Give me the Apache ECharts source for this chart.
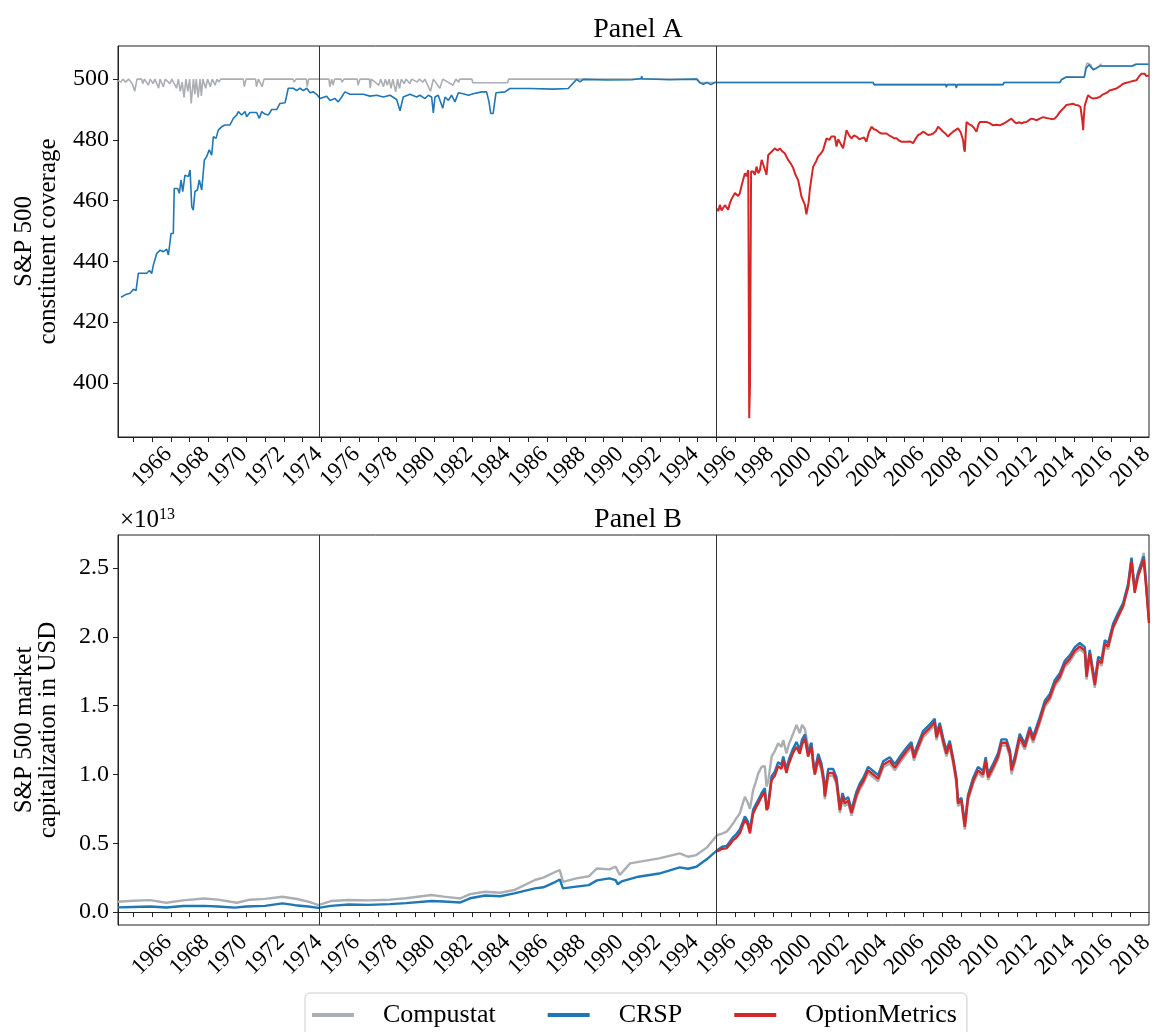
<!DOCTYPE html>
<html>
<head>
<meta charset="utf-8">
<title>S&amp;P 500 coverage and market capitalization</title>
<script src="https://cdn.jsdelivr.net/npm/echarts@6/dist/echarts.min.js"></script>
<style>
  html, body { margin: 0; padding: 0; background: #fff; }
  #chart { width: 1154px; height: 1032px; }
</style>
</head>
<body>
<div id="chart"></div>
<script>
// ---- Panel A: number of S&P 500 constituents covered by each database ----
const coverageCompustat = [
  [1964.19,499.5],[1964.35,499],[1964.45,500],[1964.6,499],[1964.75,500],[1964.95,498.5],[1965.08,496],[1965.15,496],
  [1965.2,500],[1965.45,500],[1965.5,498.5],[1965.6,500],[1965.8,498],[1965.9,500],[1966.05,498.5],[1966.15,500],
  [1966.35,497],[1966.42,500],[1966.6,497.5],[1966.7,500],[1966.95,498.5],[1967.05,500],[1967.3,497],[1967.4,500],
  [1967.5,496],[1967.6,499],[1967.7,494],[1967.8,500],[1967.9,496],[1968.0,500],[1968.08,492],[1968.15,492],
  [1968.2,500],[1968.28,495],[1968.35,500],[1968.45,494],[1968.55,500],[1968.62,494.5],[1968.7,500],[1968.85,497],
  [1968.95,500],[1969.1,497.5],[1969.2,500],[1969.35,498],[1969.45,500],[1969.55,499],[1969.65,500],[1970.85,500],
  [1970.9,497.5],[1971.0,500],[1971.5,500],[1971.55,497.5],[1971.65,500],[1971.85,497.5],[1971.95,500],[1973.5,500],
  [1973.55,499],[1973.65,500],[1974.2,500],[1974.25,497.5],[1974.32,500],[1975.4,500],[1975.45,497.5],[1975.55,500],
  [1975.62,498],[1975.7,500],[1976.05,500],[1976.1,499],[1976.2,500],[1976.9,500],[1976.95,498],[1977.05,500],
  [1977.55,500],[1977.6,497],[1977.65,500],[1978.05,498],[1978.15,500],[1978.3,497.5],[1978.4,500],[1978.5,498],
  [1978.6,500],[1978.7,497],[1978.8,500],[1978.95,495.8],[1979.05,500],[1979.15,497],[1979.25,500],[1979.4,498.5],
  [1979.5,500],[1979.7,498.5],[1979.8,500],[1980.1,499],[1980.2,500],[1980.4,499],[1980.5,500],[1980.8,496],
  [1980.9,496],[1980.95,500],[1981.3,497],[1981.4,497],[1981.45,500],[1982.0,498],[1982.1,498],[1982.15,500],
  [1982.3,499],[1982.35,500],[1983.0,500],[1983.05,498.8],[1984.9,498.8],[1984.95,500],[1988.57,500],[1995.0,500],
  [1995.12,498.9],[2004.33,498.9],[2004.38,498.2],[2011.24,498.2],[2011.28,498.9],[2014.25,498.9],[2014.35,499.9],
  [2014.6,500.7],[2015.55,500.7],[2015.62,503.8],[2015.7,505.3],[2015.8,505.3],[2015.9,504.7],[2016.0,503.3],
  [2016.15,503.6],[2016.37,504.3],[2016.42,505],[2016.48,504.3],[2018.1,504.3],[2018.3,504.9],[2018.99,504.9]
];

const coverageCRSP = [
  [1964.35,428.2],[1964.57,429],[1964.83,429.5],[1965.01,430.8],[1965.15,430.4],[1965.27,436.1],[1965.72,436.1],
  [1965.86,437],[1965.98,436],[1966.07,438.8],[1966.25,442.6],[1966.43,443.7],[1966.6,443.2],[1966.78,444],
  [1966.87,442.1],[1967.01,449.2],[1967.13,449.2],[1967.18,464],[1967.36,464],[1967.45,462.4],[1967.54,466.8],
  [1967.63,463],[1967.75,468.4],[1967.93,467.9],[1968.02,470.1],[1968.11,458],[1968.19,456.9],[1968.28,463],
  [1968.41,463.5],[1968.51,466.8],[1968.64,463.5],[1968.78,473.4],[1968.9,474.5],[1969.04,476.7],[1969.17,475],
  [1969.26,481.1],[1969.4,480.5],[1969.52,483.2],[1969.7,484.3],[1969.88,484.9],[1970.14,484.9],[1970.32,487.1],
  [1970.5,488.2],[1970.59,489.3],[1970.76,488.2],[1970.94,489.3],[1971.03,487.6],[1971.2,489],[1971.56,489],
  [1971.7,487.1],[1971.83,489.3],[1972.0,488.5],[1972.18,488.2],[1972.36,490],[1972.63,490],[1972.8,492],
  [1973.07,492.2],[1973.24,497],[1973.51,497],[1973.69,496.2],[1973.86,497],[1974.04,496.2],[1974.22,497],
  [1974.4,495.5],[1974.57,495.8],[1974.75,495],[1974.93,493.6],[1975.28,494.4],[1975.46,493],[1975.72,493.6],
  [1975.9,492.5],[1976.08,494.1],[1976.25,495.8],[1976.52,495],[1977.23,495],[1977.58,494.4],[1977.94,494.7],
  [1978.29,494.1],[1978.65,494.7],[1979.0,493.3],[1979.18,489.6],[1979.35,494.1],[1979.71,495],[1980.06,494.1],
  [1980.24,494.7],[1980.51,493.6],[1980.68,494.7],[1980.86,494.1],[1980.95,488.9],[1981.04,494.1],[1981.21,494.7],
  [1981.45,490.4],[1981.57,494.1],[1981.75,493],[1981.92,494.7],[1982.1,492.5],[1982.28,495.5],[1982.54,495.2],
  [1982.81,494.7],[1983.07,495.2],[1983.52,495.8],[1983.78,495.8],[1983.91,492.5],[1984.0,488.7],[1984.13,488.7],
  [1984.28,495.5],[1984.76,495.8],[1985.02,496.9],[1986.09,496.9],[1987.32,496.7],[1987.36,496.2],[1988.12,496.9],
  [1988.57,499.9],[1988.75,499.1],[1988.92,499.9],[1990.16,499.7],[1990.2,499.1],[1990.25,499.9],[1991.5,499.8],
  [1992.0,500.2],[1992.02,501],[1992.06,500.1],[1993.5,499.8],[1994.94,500],[1995.12,498.8],[1995.3,498.3],
  [1995.5,498.9],[1995.7,498.2],[1995.9,498.9],[1996.0,498.3],[1996.2,498.9],[1996.6,498.9],[1996.65,498.3],
  [1996.7,498.9],[1997.5,498.9],[1997.55,498.3],[1997.6,498.9],[1998.3,498.9],[1998.35,498.3],[1998.4,498.9],
  [2004.33,498.9],[2004.38,498.2],[2006.4,498.2],[2006.45,497.6],[2006.5,498.2],[2008.18,498.2],[2008.22,497.3],
  [2008.27,498.2],[2008.7,498.2],[2008.75,497.1],[2008.8,498.2],[2011.24,498.2],[2011.28,498.9],[2014.25,498.9],
  [2014.35,499.9],[2014.6,500.7],[2015.55,500.6],[2015.65,503.6],[2015.8,504.7],[2016.02,503.1],[2016.2,503.6],
  [2016.37,504.3],[2018.1,504.3],[2018.3,504.9],[2018.99,504.9]
];

const coverageOptionMetrics = [
  [1996.04,457.5],[1996.1,456.5],[1996.18,458.6],[1996.27,456.8],[1996.36,456.4],[1996.45,458.5],[1996.54,458.1],
  [1996.62,457],[1996.71,459.1],[1996.8,460.5],[1996.89,460.2],[1996.98,462.5],[1997.07,463],[1997.15,461.5],
  [1997.24,462.4],[1997.33,464.8],[1997.42,464.6],[1997.51,469],[1997.6,468],[1997.69,470.1],[1997.74,388.4],
  [1997.78,398.8],[1997.84,469.6],[1997.95,469.6],[1998.04,468.5],[1998.13,471.2],[1998.22,469],[1998.31,470.1],
  [1998.4,473.4],[1998.49,471.8],[1998.57,472.3],[1998.66,468.5],[1998.75,475],[1998.93,476.1],[1999.1,477.2],
  [1999.25,476.5],[1999.37,477.2],[1999.5,476.2],[1999.63,475.6],[1999.81,473.4],[1999.95,472.2],[2000.08,470.7],
  [2000.2,468.5],[2000.34,466.8],[2000.45,463.5],[2000.52,461.3],[2000.7,458.6],[2000.78,455.5],[2000.82,455.9],
  [2000.9,459.5],[2000.96,463.5],[2001.05,467.5],[2001.14,471.2],[2001.3,473],[2001.4,474.5],[2001.55,475.5],
  [2001.67,476.7],[2001.85,480.5],[2002.0,480],[2002.11,481.1],[2002.29,481.1],[2002.38,477.8],[2002.47,480.2],
  [2002.56,480.5],[2002.73,477.2],[2002.82,480],[2002.91,483.2],[2003.05,481.5],[2003.18,480.5],[2003.31,481.5],
  [2003.44,481.1],[2003.6,480.2],[2003.71,480.5],[2003.85,480.8],[2003.97,479.4],[2004.1,482.5],[2004.24,484.3],
  [2004.37,483.5],[2004.51,483.2],[2004.64,482.5],[2004.77,482.1],[2005.04,482.1],[2005.17,481.5],[2005.3,481.1],
  [2005.45,480.5],[2005.57,480.5],[2005.7,479.8],[2005.83,479.4],[2006.1,479.4],[2006.28,479.5],[2006.45,478.9],
  [2006.6,480.5],[2006.72,481.6],[2006.85,482],[2006.98,482.7],[2007.12,482.2],[2007.25,481.6],[2007.4,481.8],
  [2007.52,482.1],[2007.65,482.8],[2007.78,484.3],[2007.92,483.5],[2008.05,482.7],[2008.18,482],[2008.31,481.1],
  [2008.45,482],[2008.58,482.7],[2008.7,483.2],[2008.84,483.8],[2008.98,482.5],[2009.11,479.9],[2009.16,477],
  [2009.2,476.1],[2009.25,482],[2009.29,485.9],[2009.42,485.2],[2009.55,484.8],[2009.68,484],[2009.82,482.7],
  [2009.92,485],[2010.0,485.9],[2010.2,485.9],[2010.35,485.9],[2010.52,485.5],[2010.7,484.8],[2010.88,485],
  [2011.06,484.8],[2011.24,485.3],[2011.41,485.9],[2011.55,486.5],[2011.68,487],[2011.82,486],[2011.95,485.4],
  [2012.08,485.8],[2012.21,485.4],[2012.35,485.8],[2012.48,485.9],[2012.61,486.5],[2012.74,487],[2012.88,486.8],
  [2013.01,486.4],[2013.18,487],[2013.36,487.5],[2013.54,487.2],[2013.72,487],[2013.85,486.8],[2013.98,487],
  [2014.12,488],[2014.25,489.2],[2014.38,490],[2014.51,490.8],[2014.6,491.5],[2014.69,491.9],[2014.82,491.7],
  [2014.95,491.9],[2015.08,491.5],[2015.22,491.4],[2015.35,490.8],[2015.4,490.3],[2015.45,486],[2015.49,483.2],
  [2015.53,488],[2015.58,491.4],[2015.66,493],[2015.75,494.7],[2015.88,494],[2016.02,493.6],[2016.2,493.8],
  [2016.37,494.1],[2016.5,494.8],[2016.64,495.2],[2016.77,495.6],[2016.9,496.3],[2017.08,496.6],[2017.26,496.9],
  [2017.43,497.6],[2017.61,498.5],[2017.79,498.8],[2017.97,499.1],[2018.14,499.4],[2018.32,499.6],[2018.45,500.8],
  [2018.59,501.8],[2018.76,501.8],[2018.85,501],[2018.94,500.7],[2018.99,501.2]
];

// ---- Panel B: S&P 500 market capitalization, in units of 1e13 USD ----
const capCompustat = [
  [1964.19,0.075],[1965.0,0.082],[1965.89,0.087],[1966.76,0.068],[1967.65,0.085],[1968.75,0.099],[1969.5,0.09],
  [1970.51,0.068],[1971.2,0.09],[1972.0,0.096],[1972.93,0.111],[1973.7,0.095],[1974.4,0.072],[1974.84,0.051],
  [1975.5,0.08],[1976.45,0.088],[1977.5,0.085],[1978.65,0.09],[1979.5,0.1],[1980.85,0.124],[1981.5,0.112],
  [1982.39,0.099],[1982.9,0.13],[1983.71,0.148],[1984.5,0.14],[1985.25,0.16],[1986.35,0.233],[1986.8,0.25],
  [1987.45,0.293],[1987.67,0.305],[1987.84,0.22],[1988.55,0.245],[1989.21,0.26],[1989.65,0.317],[1990.31,0.31],
  [1990.64,0.33],[1990.86,0.269],[1991.41,0.354],[1992.95,0.39],[1994.05,0.426],[1994.49,0.402],[1994.93,0.414],
  [1995.5,0.47],[1996.04,0.56],[1996.3,0.57],[1996.54,0.584],[1996.7,0.61],[1996.89,0.645],[1997.05,0.68],
  [1997.24,0.717],[1997.4,0.79],[1997.51,0.838],[1997.65,0.8],[1997.78,0.75],[1997.95,0.887],[1998.1,0.95],
  [1998.22,1.008],[1998.4,1.056],[1998.57,1.06],[1998.66,0.911],[1998.75,0.95],[1998.93,1.129],[1999.1,1.17],
  [1999.28,1.226],[1999.45,1.2],[1999.55,1.25],[1999.72,1.153],[1999.85,1.22],[2000.08,1.298],[2000.25,1.359],
  [2000.43,1.3],[2000.55,1.36],[2000.7,1.33],[2000.87,1.2],[2001.05,1.23],[2001.15,1.07],[2001.23,1.0],
  [2001.41,1.1],[2001.58,1.03],[2001.7,0.93],[2001.76,0.82],[2001.94,0.99],[2002.2,0.99],[2002.38,0.93],
  [2002.56,0.72],[2002.7,0.82],[2002.82,0.77],[2003.0,0.79],[2003.18,0.7],[2003.44,0.83],[2003.62,0.89],
  [2003.8,0.93],[2004.06,1.01],[2004.33,0.98],[2004.59,0.95],[2004.86,1.05],[2005.21,1.08],[2005.48,1.03],
  [2005.83,1.1],[2006.1,1.15],[2006.36,1.19],[2006.5,1.1],[2006.63,1.15],[2006.98,1.27],[2007.34,1.32],
  [2007.6,1.36],[2007.69,1.25],[2007.87,1.33],[2008.05,1.22],[2008.22,1.13],[2008.4,1.2],[2008.58,1.08],
  [2008.75,0.94],[2008.84,0.77],[2009.02,0.79],[2009.2,0.6],[2009.37,0.81],[2009.64,0.93],[2009.9,1.01],
  [2010.17,0.98],[2010.31,1.08],[2010.44,0.96],[2010.7,1.03],[2010.97,1.11],[2011.15,1.21],[2011.41,1.21],
  [2011.6,1.13],[2011.68,1.0],[2011.85,1.08],[2012.12,1.25],[2012.39,1.18],[2012.65,1.3],[2012.83,1.23],
  [2013.18,1.37],[2013.45,1.49],[2013.72,1.54],[2013.98,1.64],[2014.25,1.69],[2014.51,1.78],[2014.78,1.82],
  [2015.05,1.88],[2015.31,1.91],[2015.58,1.88],[2015.67,1.69],[2015.84,1.86],[2016.11,1.63],[2016.29,1.81],
  [2016.47,1.79],[2016.64,1.93],[2016.82,1.91],[2017.08,2.06],[2017.35,2.14],[2017.61,2.22],[2017.88,2.37],
  [2018.06,2.57],[2018.23,2.34],[2018.41,2.47],[2018.59,2.55],[2018.71,2.61],[2018.85,2.38],[2018.99,2.14]
];

const capCRSP = [
  [1964.19,0.034],[1965.0,0.037],[1965.9,0.04],[1966.76,0.033],[1967.65,0.044],[1968.75,0.045],[1969.5,0.04],
  [1970.4,0.032],[1971.0,0.04],[1972.0,0.045],[1972.93,0.063],[1973.6,0.05],[1974.3,0.04],[1974.84,0.03],
  [1975.5,0.045],[1976.45,0.055],[1977.5,0.052],[1978.65,0.058],[1979.5,0.065],[1980.85,0.08],[1981.5,0.077],
  [1982.39,0.07],[1982.9,0.1],[1983.71,0.12],[1984.5,0.115],[1985.25,0.136],[1986.35,0.172],[1986.8,0.18],
  [1987.45,0.22],[1987.67,0.237],[1987.84,0.172],[1988.55,0.185],[1989.21,0.196],[1989.65,0.23],[1990.31,0.245],
  [1990.64,0.232],[1990.75,0.203],[1991.0,0.225],[1991.85,0.257],[1992.95,0.28],[1994.05,0.325],[1994.49,0.315],
  [1994.93,0.329],[1995.5,0.385],[1996.04,0.45],[1996.3,0.475],[1996.54,0.48],[1996.7,0.51],[1996.89,0.545],
  [1997.05,0.565],[1997.24,0.6],[1997.4,0.655],[1997.51,0.695],[1997.65,0.665],[1997.78,0.6],[1997.95,0.745],
  [1998.1,0.785],[1998.22,0.815],[1998.4,0.865],[1998.57,0.9],[1998.66,0.765],[1998.75,0.785],[1998.93,0.985],
  [1999.1,1.02],[1999.28,1.09],[1999.45,1.07],[1999.55,1.13],[1999.72,1.04],[1999.85,1.11],[2000.08,1.19],
  [2000.25,1.235],[2000.43,1.18],[2000.55,1.255],[2000.7,1.29],[2000.87,1.16],[2001.05,1.23],[2001.15,1.09],
  [2001.23,1.03],[2001.41,1.15],[2001.58,1.08],[2001.7,0.98],[2001.76,0.865],[2001.94,1.04],[2002.2,1.04],
  [2002.38,0.98],[2002.56,0.765],[2002.7,0.865],[2002.82,0.815],[2003.0,0.835],[2003.18,0.745],[2003.44,0.875],
  [2003.62,0.935],[2003.8,0.975],[2004.06,1.055],[2004.33,1.025],[2004.59,0.995],[2004.86,1.095],[2005.21,1.125],
  [2005.48,1.075],[2005.83,1.145],[2006.1,1.195],[2006.36,1.235],[2006.5,1.145],[2006.63,1.195],[2006.98,1.315],
  [2007.34,1.365],[2007.6,1.405],[2007.69,1.295],[2007.87,1.375],[2008.05,1.265],[2008.22,1.175],[2008.4,1.245],
  [2008.58,1.12],[2008.75,0.98],[2008.84,0.81],[2009.02,0.83],[2009.2,0.64],[2009.37,0.85],[2009.64,0.975],
  [2009.9,1.055],[2010.17,1.025],[2010.31,1.125],[2010.44,1.005],[2010.7,1.075],[2010.97,1.155],[2011.15,1.255],
  [2011.41,1.255],[2011.6,1.175],[2011.68,1.055],[2011.85,1.125],[2012.12,1.295],[2012.39,1.225],[2012.65,1.345],
  [2012.83,1.275],[2013.18,1.415],[2013.45,1.535],[2013.72,1.585],[2013.98,1.685],[2014.25,1.735],[2014.51,1.825],
  [2014.78,1.865],[2015.05,1.925],[2015.31,1.955],[2015.58,1.925],[2015.67,1.735],[2015.84,1.905],[2016.11,1.675],
  [2016.29,1.855],[2016.47,1.835],[2016.64,1.975],[2016.82,1.955],[2017.08,2.095],[2017.35,2.175],[2017.61,2.245],
  [2017.88,2.385],[2018.06,2.575],[2018.23,2.345],[2018.41,2.465],[2018.59,2.535],[2018.71,2.585],[2018.85,2.365],
  [2018.99,2.12]
];

const capOptionMetrics = [
  [1996.04,0.44],[1996.3,0.46],[1996.54,0.463],[1996.7,0.49],[1996.89,0.523],[1997.05,0.54],[1997.24,0.572],
  [1997.4,0.63],[1997.51,0.669],[1997.65,0.64],[1997.78,0.572],[1997.95,0.717],[1998.1,0.76],[1998.22,0.79],
  [1998.4,0.84],[1998.57,0.874],[1998.66,0.741],[1998.75,0.76],[1998.93,0.96],[1999.1,0.99],[1999.28,1.06],
  [1999.45,1.04],[1999.55,1.1],[1999.72,1.01],[1999.85,1.08],[2000.08,1.16],[2000.25,1.2],[2000.43,1.15],
  [2000.55,1.22],[2000.7,1.26],[2000.87,1.13],[2001.05,1.2],[2001.15,1.06],[2001.23,1.0],[2001.41,1.12],
  [2001.58,1.05],[2001.7,0.95],[2001.76,0.84],[2001.94,1.01],[2002.2,1.01],[2002.38,0.95],[2002.56,0.74],
  [2002.7,0.84],[2002.82,0.79],[2003.0,0.81],[2003.18,0.72],[2003.44,0.85],[2003.62,0.91],[2003.8,0.95],
  [2004.06,1.03],[2004.33,1.0],[2004.59,0.97],[2004.86,1.07],[2005.21,1.1],[2005.48,1.05],[2005.83,1.12],
  [2006.1,1.17],[2006.36,1.21],[2006.5,1.12],[2006.63,1.17],[2006.98,1.29],[2007.34,1.34],[2007.6,1.38],
  [2007.69,1.27],[2007.87,1.35],[2008.05,1.24],[2008.22,1.15],[2008.4,1.22],[2008.58,1.1],[2008.75,0.96],
  [2008.84,0.79],[2009.02,0.81],[2009.2,0.62],[2009.37,0.83],[2009.64,0.95],[2009.9,1.03],[2010.17,1.0],
  [2010.31,1.1],[2010.44,0.98],[2010.7,1.05],[2010.97,1.13],[2011.15,1.23],[2011.41,1.23],[2011.6,1.15],
  [2011.68,1.03],[2011.85,1.1],[2012.12,1.27],[2012.39,1.2],[2012.65,1.32],[2012.83,1.25],[2013.18,1.39],
  [2013.45,1.51],[2013.72,1.56],[2013.98,1.66],[2014.25,1.71],[2014.51,1.8],[2014.78,1.84],[2015.05,1.9],
  [2015.31,1.93],[2015.58,1.9],[2015.67,1.71],[2015.84,1.88],[2016.11,1.65],[2016.29,1.83],[2016.47,1.81],
  [2016.64,1.95],[2016.82,1.93],[2017.08,2.07],[2017.35,2.15],[2017.61,2.22],[2017.88,2.36],[2018.06,2.55],
  [2018.23,2.32],[2018.41,2.44],[2018.59,2.51],[2018.71,2.56],[2018.85,2.34],[2018.99,2.1]
];

// Axis ticks and labels
const yearTicks = [];
for (let y = 1965; y <= 2018; y++) yearTicks.push(y);
const yearLabels = yearTicks.filter(y => y % 2 === 0);
const coverageTicks = [400, 420, 440, 460, 480, 500];
const capTicks = [0, 0.5, 1.0, 1.5, 2.0, 2.5];
const breakYears = [1974.87, 1996.0];

const seriesNames = ['Compustat', 'CRSP', 'OptionMetrics'];
const seriesColors = ['#abaeb2', '#1f77b4', '#d62728'];

const FONT = "'Liberation Serif', 'DejaVu Serif', serif";
const xRange = { min: 1964.19, max: 2018.99 };

function xAxisFor(gridIndex) {
  return {
    type: 'value', gridIndex, min: xRange.min, max: xRange.max,
    axisLine: { show: true, lineStyle: { color: '#222', width: 1 } },
    axisTick: { show: true, customValues: yearTicks, length: 5, inside: false,
                lineStyle: { color: '#222', width: 1 } },
    axisLabel: { show: true, customValues: yearLabels, rotate: 45, align: 'center',
                 verticalAlign: 'middle', margin: 30, color: '#000',
                 fontFamily: FONT, fontSize: 23, formatter: v => String(Math.round(v)) },
    splitLine: { show: false }
  };
}

function yAxisFor(gridIndex, range, ticks, name, fmt) {
  return {
    type: 'value', gridIndex, min: range[0], max: range[1],
    name, nameLocation: 'middle', nameRotate: 90, nameGap: 58, nameMoveOverlap: false,
    nameTextStyle: { fontFamily: FONT, fontSize: 25, color: '#000', lineHeight: 24, align: 'center' },
    axisLine: { show: true, lineStyle: { color: '#222', width: 1 } },
    axisTick: { show: true, customValues: ticks, length: 5, lineStyle: { color: '#222', width: 1 } },
    axisLabel: { show: true, customValues: ticks, margin: 9, color: '#000',
                 fontFamily: FONT, fontSize: 24, formatter: fmt },
    splitLine: { show: false }
  };
}

function lineSeries(i, data, panel, width) {
  const s = {
    name: seriesNames[i], type: 'line', data,
    xAxisIndex: panel, yAxisIndex: panel,
    showSymbol: false, symbol: 'none', smooth: false,
    lineStyle: { color: seriesColors[i], width },
    itemStyle: { color: seriesColors[i] },
    z: 2 + i, animation: false
  };
  if (i === 0) {
    s.markLine = {
      silent: true, symbol: ['none', 'none'], animation: false,
      label: { show: false },
      lineStyle: { color: '#333', width: 1, type: 'solid' },
      data: breakYears.map(y => ({ xAxis: y }))
    };
  }
  return s;
}

const gridBase = { left: 118, width: 1031, show: true, borderColor: '#222', borderWidth: 1,
                   backgroundColor: 'transparent', containLabel: false, outerBoundsMode: 'none' };

const chart = echarts.init(document.getElementById('chart'), null, { renderer: 'canvas' });
chart.setOption({
  backgroundColor: '#fff',
  animation: false,
  textStyle: { fontFamily: FONT },
  title: [
    { text: 'Panel A', left: 633, top: 11, textAlign: 'center',
      textStyle: { fontFamily: FONT, fontSize: 28, fontWeight: 'normal', color: '#000' } },
    { text: 'Panel B', left: 633, top: 501, textAlign: 'center',
      textStyle: { fontFamily: FONT, fontSize: 28, fontWeight: 'normal', color: '#000' } }
  ],
  grid: [
    Object.assign({ top: 46, height: 391 }, gridBase),
    Object.assign({ top: 535, height: 390 }, gridBase)
  ],
  xAxis: [xAxisFor(0), xAxisFor(1)],
  yAxis: [
    yAxisFor(0, [382.2, 510.9], coverageTicks, 'S&P 500\nconstituent coverage', v => String(v)),
    yAxisFor(1, [-0.094, 2.74], capTicks, 'S&P 500 market\ncapitalization in USD', v => v.toFixed(1))
  ],
  legend: {
    data: seriesNames, left: 305, top: 993,
    icon: 'rect', itemWidth: 42, itemHeight: 4, itemGap: 52,
    padding: [9, 10, 14, 7],
    borderColor: '#cccccc', borderWidth: 1, borderRadius: 5,
    textStyle: { fontFamily: FONT, fontSize: 26, color: '#000', padding: [0, 0, 0, 24] }
  },
  graphic: [{
    type: 'text', left: 120, top: 507,
    style: {
      text: '×10{sup|13}', fontFamily: FONT, fontSize: 25, fill: '#000',
      rich: { sup: { fontFamily: FONT, fontSize: 16, verticalAlign: 'top', padding: [0, 0, 10, 0] } }
    }
  }],
  series: [
    lineSeries(0, coverageCompustat, 0, 1.6),
    lineSeries(1, coverageCRSP, 0, 1.6),
    lineSeries(2, coverageOptionMetrics, 0, 2),
    lineSeries(0, capCompustat, 1, 2.4),
    lineSeries(1, capCRSP, 1, 2.4),
    lineSeries(2, capOptionMetrics, 1, 2.4)
  ]
});
</script>
</body>
</html>
